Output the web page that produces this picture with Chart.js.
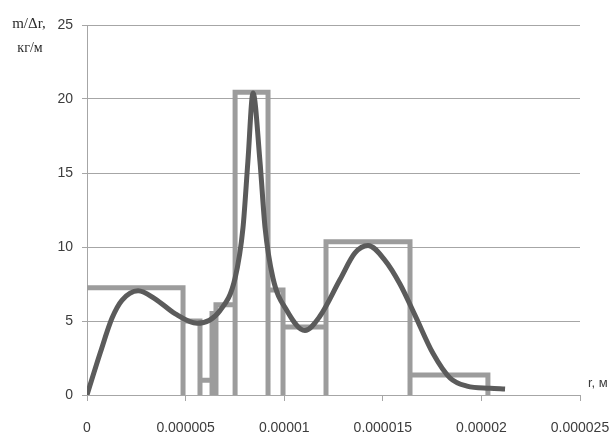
<!DOCTYPE html>
<html>
<head>
<meta charset="utf-8">
<script src="https://cdn.jsdelivr.net/npm/chart.js@4/dist/chart.umd.min.js"></script>
<style>
  html, body { margin: 0; padding: 0; background: #fff; }
  #wrap { width: 613px; height: 437px; }
</style>
</head>
<body>
<div id="wrap"><canvas id="c" width="613" height="437"></canvas></div>
<script>
// Histogram of m/Δr over radius bins (bin edges in metres, heights in kg/m)
const binEdges = [0, 4.87e-6, 5.73e-6, 6.34e-6, 6.54e-6, 7.51e-6, 9.18e-6, 9.94e-6, 1.212e-5, 1.638e-5, 2.033e-5];
const binHeights = [7.25, 5.0, 1.0, 5.5, 6.1, 20.45, 7.1, 4.6, 10.35, 1.35];

// Smoothed distribution curve
const curveR = [0, 0.66e-6, 1.27e-6, 1.77e-6, 2.59e-6, 3.45e-6, 4.46e-6, 5.58e-6, 6.74e-6,
                7.51e-6, 7.91e-6, 8.16e-6, 8.42e-6, 8.77e-6, 9.03e-6, 9.43e-6, 1.014e-5, 1.105e-5,
                1.18e-5, 1.283e-5, 1.359e-5, 1.425e-5, 1.511e-5, 1.587e-5, 1.663e-5, 1.755e-5,
                1.841e-5, 1.927e-5, 2.044e-5, 2.12e-5];
const curveM = [0, 2.8, 5.2, 6.4, 7.05, 6.5, 5.5, 4.85, 5.7,
                7.9, 11.3, 15.8, 20.4, 15.8, 11.3, 7.9, 5.7, 4.35,
                5.3, 7.8, 9.6, 10.1, 9.1, 7.5, 5.4, 2.8,
                1.15, 0.6, 0.45, 0.4];

// Axis tick labels
const xTickLabels = ["0", "0.000005", "0.00001", "0.000015", "0.00002", "0.000025"];
const yTickLabels = ["0", "5", "10", "15", "20", "25"];

// Outline of the bins as a step path (the first bin starts at its top-left corner)
const histPoints = [];
for (let i = 0; i < binHeights.length; i++) {
  const a = binEdges[i], b = binEdges[i + 1], h = binHeights[i];
  if (i > 0) histPoints.push({x: a, y: 0});
  histPoints.push({x: a, y: h}, {x: b, y: h}, {x: b, y: 0});
}
const curvePoints = curveR.map((r, i) => ({x: r, y: curveM[i]}));

const textColor = '#3c3c3c';
const gridColor = '#a6a6a6';

const titles = {
  id: 'titles',
  beforeDraw(chart) {
    const ctx = chart.ctx;
    ctx.save();
    ctx.fillStyle = '#fff';
    ctx.fillRect(0, 0, chart.width, chart.height);
    ctx.restore();
  },
  afterDraw(chart) {
    const ctx = chart.ctx;
    ctx.save();
    ctx.fillStyle = '#2a2a2a';
    ctx.textAlign = 'center';
    ctx.textBaseline = 'alphabetic';
    ctx.font = '15px "Liberation Serif", serif';
    ctx.fillText('m/\u0394r,', 29, 28);
    ctx.font = '14px "Liberation Serif", serif';
    ctx.fillText('\u043a\u0433/\u043c', 30, 52);
    ctx.font = '13px "Liberation Sans", sans-serif';
    ctx.fillStyle = textColor;
    ctx.textAlign = 'left';
    ctx.fillText('r, \u043c', 588, 387);
    ctx.restore();
  }
};

new Chart(document.getElementById('c'), {
  type: 'line',
  data: {
    datasets: [
      {
        label: 'curve',
        data: curvePoints,
        borderColor: '#5b5b5b',
        borderWidth: 5,
        pointRadius: 0,
        cubicInterpolationMode: 'monotone',
        fill: false,
        order: 0
      },
      {
        label: 'histogram',
        data: histPoints,
        borderColor: '#9c9c9c',
        borderWidth: 5,
        pointRadius: 0,
        tension: 0,
        fill: false,
        order: 1
      }
    ]
  },
  options: {
    responsive: false,
    animation: false,
    devicePixelRatio: 1,
    layout: { padding: { left: 0, right: 33, top: 25, bottom: 0 } },
    plugins: { legend: { display: false }, tooltip: { enabled: false } },
    scales: {
      x: {
        type: 'linear',
        min: 0,
        max: 2.5e-5,
        afterFit(scale) {
          scale.height = 42;
          scale.paddingLeft = 0;
          scale.paddingRight = 0;
        },
        afterBuildTicks(scale) {
          scale.ticks = xTickLabels.map(t => ({ value: parseFloat(t) }));
        },
        ticks: {
          color: textColor,
          font: { family: '"Liberation Sans", sans-serif', size: 14 },
          padding: 19,
          maxRotation: 0,
          autoSkip: false,
          callback: (v, i) => xTickLabels[i]
        },
        grid: { drawOnChartArea: false, drawTicks: true, tickLength: 6, color: gridColor, lineWidth: 1 },
        border: { color: gridColor, width: 1 }
      },
      y: {
        min: 0,
        max: 25,
        afterFit(scale) { scale.width = 87; },
        afterBuildTicks(scale) {
          scale.ticks = yTickLabels.map(t => ({ value: parseFloat(t) }));
        },
        ticks: {
          color: textColor,
          font: { family: '"Liberation Sans", sans-serif', size: 14 },
          padding: 9,
          callback: (v, i) => yTickLabels[i]
        },
        grid: { color: gridColor, lineWidth: 1, tickLength: 5 },
        border: { color: gridColor, width: 1 }
      }
    }
  },
  plugins: [titles]
});
</script>
</body>
</html>
